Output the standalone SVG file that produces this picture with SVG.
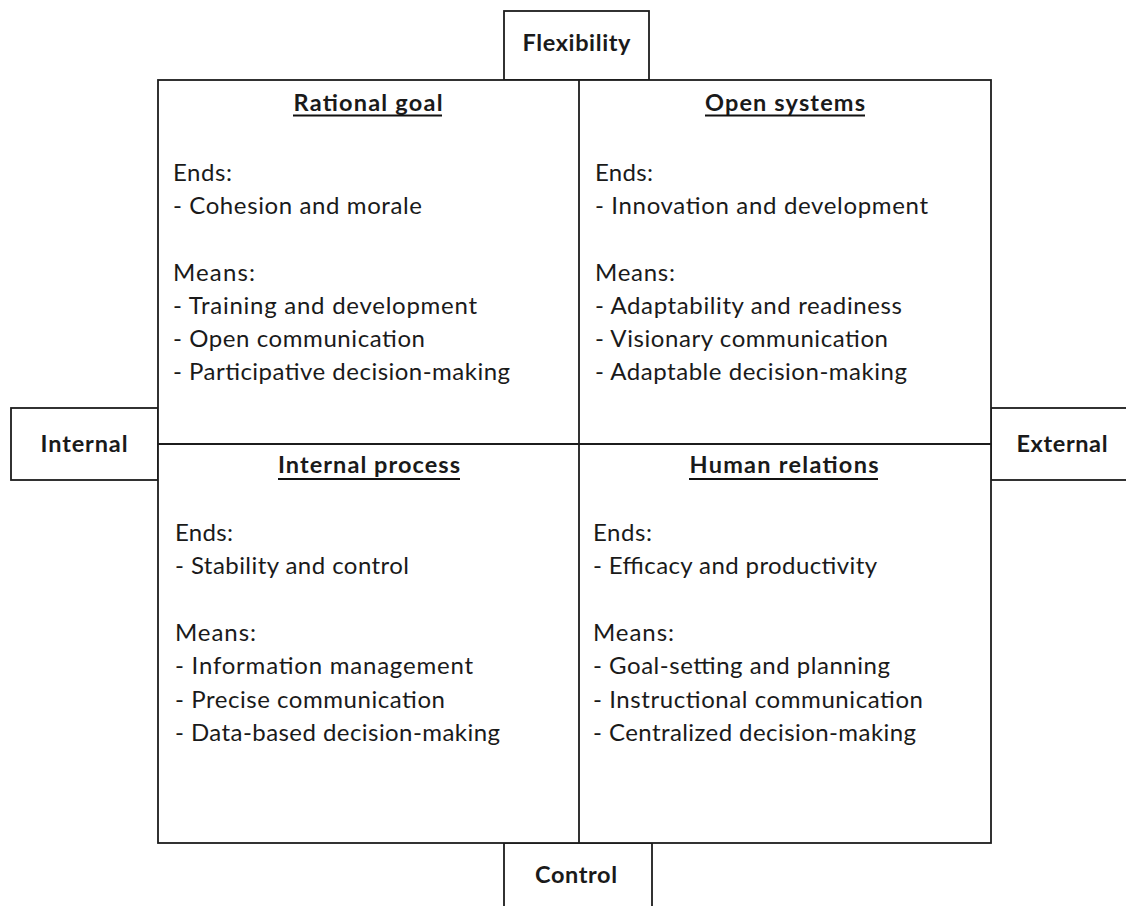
<svg xmlns="http://www.w3.org/2000/svg" width="1126" height="906" viewBox="0 0 1126 906">
<style>
.box{fill:#fff;stroke:#1c1c1c;stroke-width:1.8}
.ln{stroke:#1c1c1c;stroke-width:1.8;fill:none}
.ul{stroke:#111;stroke-width:2.2}
text{font-family:Lato,"Open Sans","Liberation Sans",sans-serif;fill:#1a1a1a}
.b{font-weight:bold;font-size:23.5px}
.t{font-size:24px}
.c{text-anchor:middle}
</style>
<rect width="1126" height="906" fill="#fff"/>
<g id="flexibility">
<rect class="box" x="504" y="11" width="145" height="69"/>
<text class="b c" x="576.5" y="51" textLength="108">Flexibility</text>
</g>
<g id="internal">
<rect class="box" x="11" y="408" width="147" height="72"/>
<text class="b c" x="84" y="452" textLength="87">Internal</text>
</g>
<g id="external">
<rect class="box" x="991" y="408" width="145" height="72"/>
<text class="b c" x="1062" y="452" textLength="91">External</text>
</g>
<g id="control">
<rect class="box" x="504" y="843" width="148" height="75"/>
<text class="b c" x="576" y="883" textLength="82">Control</text>
</g>
<g id="grid">
<rect class="box" x="158" y="80" width="833" height="763"/>
<line class="ln" x1="579" y1="80" x2="579" y2="843"/>
<line class="ln" x1="158" y1="444" x2="991" y2="444"/>
</g>
<g id="rational-goal">
<text class="b c" x="368" y="111" textLength="149">Rational goal</text>
<line class="ul" x1="293" y1="115.5" x2="442" y2="115.5"/>
<text class="t" x="173" y="181" textLength="59">Ends:</text>
<text class="t" x="173" y="214" textLength="249">- Cohesion and morale</text>
<text class="t" x="173" y="281" textLength="82">Means:</text>
<text class="t" x="173" y="314" textLength="304">- Training and development</text>
<text class="t" x="173" y="347" textLength="252">- Open communication</text>
<text class="t" x="173" y="380" textLength="337">- Participative decision-making</text>
</g>
<g id="open-systems">
<text class="b c" x="785" y="111" textLength="160">Open systems</text>
<line class="ul" x1="705" y1="115.5" x2="865" y2="115.5"/>
<text class="t" x="595" y="181" textLength="58">Ends:</text>
<text class="t" x="595" y="214" textLength="333">- Innovation and development</text>
<text class="t" x="595" y="281" textLength="80">Means:</text>
<text class="t" x="595" y="314" textLength="307">- Adaptability and readiness</text>
<text class="t" x="595" y="347" textLength="293">- Visionary communication</text>
<text class="t" x="595" y="380" textLength="312">- Adaptable decision-making</text>
</g>
<g id="internal-process">
<text class="b c" x="369" y="473" textLength="182">Internal process</text>
<line class="ul" x1="278" y1="479" x2="460" y2="479"/>
<text class="t" x="175" y="541" textLength="58">Ends:</text>
<text class="t" x="175" y="574" textLength="234">- Stability and control</text>
<text class="t" x="175" y="641" textLength="81">Means:</text>
<text class="t" x="175" y="674" textLength="298">- Information management</text>
<text class="t" x="175" y="708" textLength="270">- Precise communication</text>
<text class="t" x="175" y="741" textLength="325">- Data-based decision-making</text>
</g>
<g id="human-relations">
<text class="b c" x="784" y="473" textLength="189">Human relations</text>
<line class="ul" x1="689" y1="479" x2="878" y2="479"/>
<text class="t" x="593" y="541" textLength="59">Ends:</text>
<text class="t" x="593" y="574" textLength="284">- Efficacy and productivity</text>
<text class="t" x="593" y="641" textLength="81">Means:</text>
<text class="t" x="593" y="674" textLength="297">- Goal-setting and planning</text>
<text class="t" x="593" y="708" textLength="330">- Instructional communication</text>
<text class="t" x="593" y="741" textLength="323">- Centralized decision-making</text>
</g>
</svg>
